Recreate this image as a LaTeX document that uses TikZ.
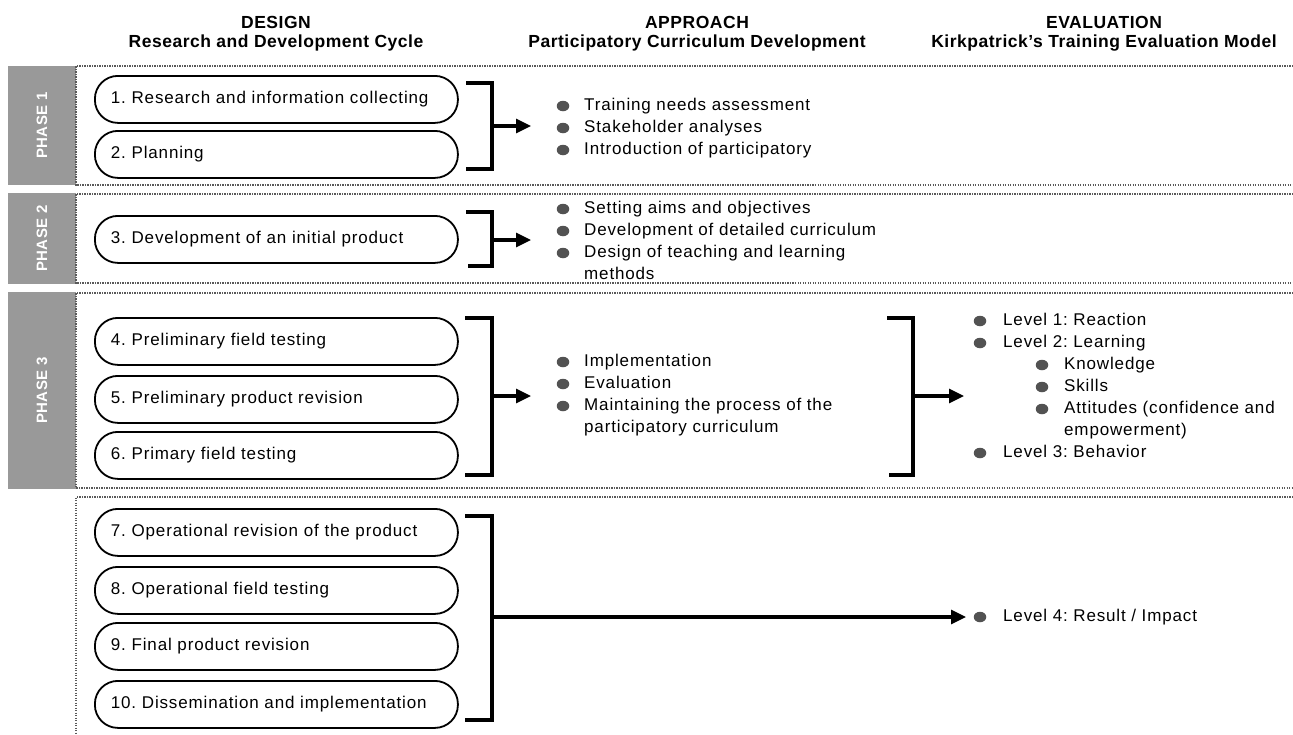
\documentclass[tikz,border=0pt]{standalone}
\usepackage{fontspec}
\newfontfamily\bodyfont[LetterSpace=5]{Liberation Sans}
\newfontfamily\headfont[LetterSpace=3]{Liberation Sans}
\usetikzlibrary{arrows.meta,shapes.geometric}
\frenchspacing
\tikzset{
  stepbox/.style={draw, line width=1.8pt, rounded corners=23pt, minimum width=363pt,
    minimum height=47pt, text width=331pt, inner xsep=16pt, inner ysep=0pt, align=left,
    anchor=north west, font=\bodyfont\fontsize{17}{21}\selectfont},
  item/.style={anchor=west, inner sep=0pt, text height=12pt, text depth=3.5pt,
    font=\bodyfont\fontsize{17}{21}\selectfont},
  dot/.style={ellipse, fill=black!68, minimum width=12.5pt, minimum height=10.5pt, inner sep=0pt},
  head/.style={inner sep=0pt, font=\headfont\bfseries\fontsize{17.5}{20}\selectfont},
  phaselbl/.style={inner sep=0pt, text=white, rotate=90, font=\headfont\bfseries\fontsize{15}{15}\selectfont},
  barfill/.style={fill=black!40},
  dotline/.style={draw=black!65, line width=1.6pt, dash pattern=on 1.2pt off 1.3pt},
  bracket/.style={draw, line width=3.2pt},
  arr/.style={line width=3.2pt, -{Triangle[length=15pt,width=14pt]}}
}
\begin{document}
\begin{tikzpicture}[x=1pt,y={(0pt,-1pt)}]
\useasboundingbox (0,0) rectangle (1293,734);

% headers
\node[head] (h1) at (276,22) {DESIGN};
\node[head] (h1s) at (276,43) {Research and Development Cycle};
\node[head] (h2) at (697,22) {APPROACH};
\node[head] (h2s) at (697,43) {Participatory Curriculum Development};
\node[head] (h3) at (1104,22) {EVALUATION};
\node[head] (h3s) at (1104,43) {Kirkpatrick’s Training Evaluation Model};

% phase bars
\fill[barfill] (8,66) rectangle (76,185);
\fill[barfill] (8,193) rectangle (76,284);
\fill[barfill] (8,292) rectangle (76,489);
\node[phaselbl] (p1) at (42,125.5) {PHASE 1};
\node[phaselbl] (p2) at (42,238.5) {PHASE 2};
\node[phaselbl] (p3) at (42,390.5) {PHASE 3};

% dotted frames
\draw[dotline] (1293,66) -- (76,66) -- (76,185) -- (1293,185);
\draw[dotline] (1293,194) -- (76,194) -- (76,283) -- (1293,283);
\draw[dotline] (1293,293) -- (76,293) -- (76,488) -- (1293,488);
\draw[dotline] (1293,497) -- (76,497) -- (76,734);

% step boxes
\node[stepbox] (s1) at (94,75) {1. Research and information collecting};
\node[stepbox] (s2) at (94,130) {2. Planning};
\node[stepbox] (s3) at (94,215) {3. Development of an initial product};
\node[stepbox] (s4) at (94,317) {4. Preliminary field testing};
\node[stepbox] (s5) at (94,375) {5. Preliminary product revision};
\node[stepbox] (s6) at (94,431) {6. Primary field testing};
\node[stepbox] (s7) at (94,508) {7. Operational revision of the product};
\node[stepbox] (s8) at (94,566) {8. Operational field testing};
\node[stepbox] (s9) at (94,622) {9. Final product revision};
\node[stepbox] (s10) at (94,680) {10. Dissemination and implementation};

% brackets
\draw[bracket] (466,83) -- (492,83) -- (492,169) -- (466,169);
\draw[bracket] (466,212) -- (492,212) -- (492,266) -- (468,266);
\draw[bracket] (465,318) -- (492,318) -- (492,475) -- (465,475);
\draw[bracket] (887,318) -- (913,318) -- (913,475) -- (889,475);
\draw[bracket] (465,516) -- (492,516) -- (492,720) -- (465,720);

\coordinate (b1) at (492,126);
\coordinate (b2) at (492,240);
\coordinate (b3) at (492,396);
\coordinate (b4) at (913,396);
\coordinate (b5) at (492,617);
\coordinate (t1) at (531,126);
\coordinate (t2) at (531,240);
\coordinate (t3) at (531,396);
\coordinate (t4) at (964,396);
\coordinate (t5) at (966,617);
\draw[arr] (b1) -- (t1);
\draw[arr] (b2) -- (t2);
\draw[arr] (b3) -- (t3);
\draw[arr] (b4) -- (t4);
\draw[arr] (b5) -- (t5);

% approach lists
\node[dot] (d11) at (563,106) {};
\node[item] (a11) at (584,106) {Training needs assessment};
\node[dot] (d12) at (563,128) {};
\node[item] (a12) at (584,128) {Stakeholder analyses};
\node[dot] (d13) at (563,150) {};
\node[item] (a13) at (584,150) {Introduction of participatory};

\node[dot] (d21) at (563,209) {};
\node[item] (a21) at (584,209) {Setting aims and objectives};
\node[dot] (d22) at (563,231) {};
\node[item] (a22) at (584,231) {Development of detailed curriculum};
\node[dot] (d23) at (563,253) {};
\node[item] (a23) at (584,253) {Design of teaching and learning};
\node[item] (a23b) at (584,275) {methods};

\node[dot] (d31) at (563,362) {};
\node[item] (a31) at (584,362) {Implementation};
\node[dot] (d32) at (563,384) {};
\node[item] (a32) at (584,384) {Evaluation};
\node[dot] (d33) at (563,406) {};
\node[item] (a33) at (584,406) {Maintaining the process of the};
\node[item] (a33b) at (584,428) {participatory curriculum};

% evaluation list
\node[dot] (e1d) at (980,321) {};
\node[item] (e1) at (1003,321) {Level 1: Reaction};
\node[dot] (e2d) at (980,343) {};
\node[item] (e2) at (1003,343) {Level 2: Learning};
\node[dot] (e21d) at (1042,365) {};
\node[item] (e21) at (1064,365) {Knowledge};
\node[dot] (e22d) at (1042,387) {};
\node[item] (e22) at (1064,387) {Skills};
\node[dot] (e23d) at (1042,409) {};
\node[item] (e23) at (1064,409) {Attitudes (confidence and};
\node[item] (e23b) at (1064,431) {empowerment)};
\node[dot] (e3d) at (980,453) {};
\node[item] (e3) at (1003,453) {Level 3: Behavior};

\node[dot] (e4d) at (980,617) {};
\node[item] (e4) at (1003,617) {Level 4: Result / Impact};
\end{tikzpicture}
\end{document}
